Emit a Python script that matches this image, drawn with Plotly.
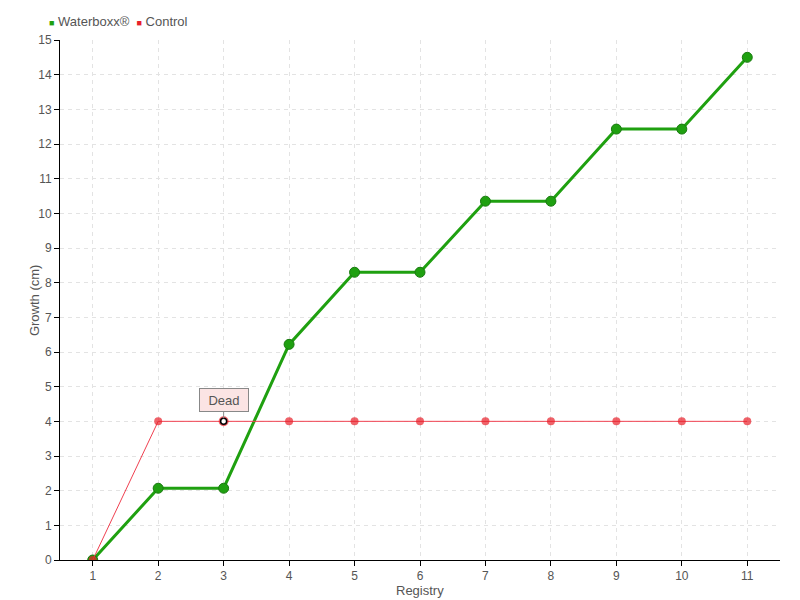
import plotly.graph_objects as go

registry = [1, 2, 3, 4, 5, 6, 7, 8, 9, 10, 11]
waterboxx = [0, 2.07, 2.07, 6.22, 8.3, 8.3, 10.35, 10.35, 12.43, 12.43, 14.5]
control = [0, 4, 4, 4, 4, 4, 4, 4, 4, 4, 4]
series_names = ["Waterboxx®", "Control"]
dead_index = 2
dead_label = "Dead"
y_ticks = list(range(0, 16))

FONT = "Liberation Sans, Arial, sans-serif"
green = "#1fa010"
red = "#e8202a"

fig = go.Figure()
fig.add_trace(go.Scatter(
    x=registry, y=waterboxx, name=series_names[0], mode="lines+markers", showlegend=False,
    line=dict(color=green, width=3),
    marker=dict(size=10, color=green, line=dict(color="#1a7a10", width=1)),
))
ctrl_sizes = [8] * len(control)
ctrl_sizes[dead_index] = 10
fig.add_trace(go.Scatter(
    x=registry, y=control, name=series_names[1], mode="lines+markers", showlegend=False,
    line=dict(color="#f04050", width=1),
    marker=dict(size=ctrl_sizes, color=red, line=dict(width=0)),
))
# dead marker overlay
fig.add_trace(go.Scatter(
    x=[registry[dead_index]], y=[control[dead_index]], mode="markers", showlegend=False,
    marker=dict(size=6, color="white", line=dict(color="black", width=1.5)),
    hoverinfo="skip",
))

fig.add_annotation(
    x=registry[dead_index], y=control[dead_index], text=dead_label,
    showarrow=True, arrowhead=0, arrowwidth=1, arrowcolor="#888", ax=0, ay=-21,
    standoff=3, width=44, height=18,
    bgcolor="#fbe4e4", bordercolor="#888", borderwidth=1, borderpad=2,
    font=dict(family=FONT, size=13, color="#555"),
)

# legend built as text
legend_text = (f"<span style='color:{green};font-size:9px'>■</span> {series_names[0]}  "
               f"<span style='color:{red};font-size:9px'>■</span> {series_names[1]}")
fig.add_annotation(
    x=-0.018, y=1.035, xref="paper", yref="paper", xanchor="left", yanchor="middle",
    text=legend_text, showarrow=False, font=dict(family=FONT, size=13, color="#555"),
)
# axis titles
fig.add_annotation(
    x=0.5, y=-0.058, xref="paper", yref="paper", xanchor="center", yanchor="middle",
    text="Registry", showarrow=False, font=dict(family=FONT, size=13, color="#555"),
)
fig.add_annotation(
    x=-0.036, y=0.5, xref="paper", yref="paper", xanchor="center", yanchor="middle",
    text="Growth (cm)", textangle=-90, showarrow=False,
    font=dict(family=FONT, size=13, color="#555"),
)

# the page body has an 8px margin; compensate so the plot area sits at 60..780 x 40..560
fig.update_layout(
    width=800, height=600,
    margin=dict(l=52, r=28, t=32, b=48, autoexpand=False),
    paper_bgcolor="white", plot_bgcolor="white",
    font=dict(family=FONT, size=13, color="#555"),
    showlegend=False,
    xaxis=dict(range=[0.5, 11.5], tickvals=registry, ticks="outside", ticklen=5,
               tickfont=dict(size=12),
               tickcolor="black", showline=True, linecolor="black", linewidth=1,
               showgrid=True, gridcolor="#e3e3e3", griddash="4px,4px", zeroline=False),
    yaxis=dict(range=[0, 15], tickvals=y_ticks, ticks="outside", ticklen=5,
               tickfont=dict(size=12),
               tickcolor="black", showline=True, linecolor="black", linewidth=1,
               showgrid=True, gridcolor="#e3e3e3", griddash="4px,4px", zeroline=False),
)
fig.write_html("out.html")
